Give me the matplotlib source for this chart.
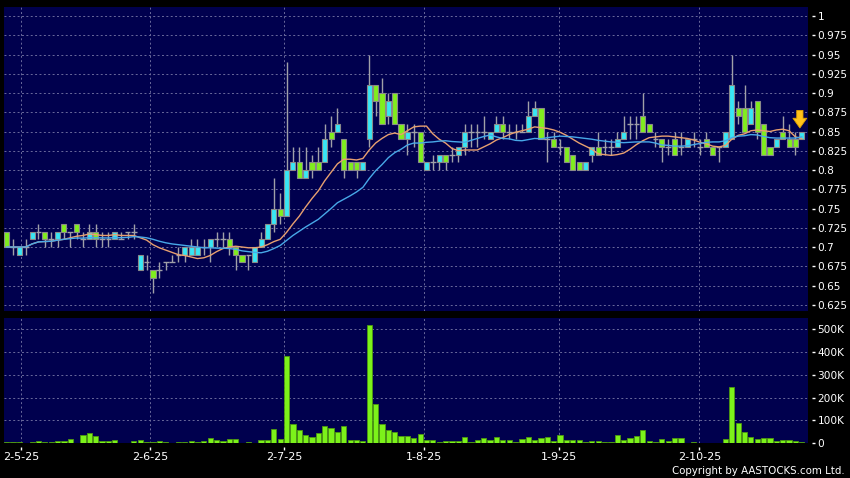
import numpy as np
import pandas as pd
import matplotlib
matplotlib.use("Agg")
import matplotlib.pyplot as plt

# --- data (one candle per trading day) ---
opens = [0.72, 0.70, 0.69, 0.70, 0.71, 0.72, 0.72, 0.71, 0.71, 0.73,
         0.72, 0.73, 0.71, 0.71, 0.72, 0.71, 0.71, 0.71, 0.71, 0.72,
         0.72, 0.67, 0.68, 0.67, 0.67, 0.68, 0.68, 0.69, 0.69, 0.69,
         0.69, 0.70, 0.70, 0.71, 0.71, 0.71, 0.70, 0.69, 0.69, 0.68,
         0.70, 0.71, 0.73, 0.75, 0.74, 0.80, 0.81, 0.79, 0.81, 0.81,
         0.81, 0.85, 0.85, 0.84, 0.81, 0.81, 0.80, 0.84, 0.91, 0.90,
         0.87, 0.90, 0.86, 0.84, 0.85, 0.85, 0.80, 0.81, 0.81, 0.82,
         0.82, 0.82, 0.83, 0.85, 0.85, 0.85, 0.84, 0.85, 0.86, 0.85,
         0.85, 0.85, 0.85, 0.87, 0.88, 0.84, 0.84, 0.83, 0.83, 0.82,
         0.81, 0.80, 0.82, 0.83, 0.83, 0.83, 0.83, 0.84, 0.86, 0.86,
         0.87, 0.86, 0.84, 0.84, 0.83, 0.84, 0.83, 0.83, 0.84, 0.83,
         0.84, 0.83, 0.83, 0.83, 0.84, 0.88, 0.88, 0.86, 0.89, 0.86,
         0.83, 0.83, 0.85, 0.84, 0.84, 0.84]
highs = [0.72, 0.71, 0.70, 0.71, 0.72, 0.73, 0.72, 0.72, 0.72, 0.73,
         0.72, 0.73, 0.72, 0.73, 0.73, 0.72, 0.72, 0.72, 0.72, 0.72,
         0.73, 0.69, 0.69, 0.67, 0.68, 0.68, 0.69, 0.70, 0.70, 0.71,
         0.71, 0.71, 0.71, 0.72, 0.72, 0.72, 0.70, 0.69, 0.69, 0.70,
         0.72, 0.73, 0.79, 0.77, 0.94, 0.83, 0.83, 0.83, 0.82, 0.83,
         0.86, 0.87, 0.88, 0.84, 0.81, 0.81, 0.81, 0.95, 0.91, 0.92,
         0.90, 0.90, 0.86, 0.86, 0.86, 0.85, 0.81, 0.82, 0.82, 0.82,
         0.83, 0.83, 0.86, 0.86, 0.86, 0.87, 0.85, 0.87, 0.87, 0.86,
         0.86, 0.86, 0.89, 0.89, 0.88, 0.85, 0.85, 0.84, 0.83, 0.82,
         0.81, 0.81, 0.83, 0.85, 0.84, 0.84, 0.85, 0.87, 0.87, 0.87,
         0.90, 0.86, 0.85, 0.84, 0.84, 0.85, 0.85, 0.84, 0.85, 0.84,
         0.85, 0.83, 0.83, 0.85, 0.95, 0.89, 0.91, 0.89, 0.89, 0.86,
         0.83, 0.84, 0.87, 0.86, 0.85, 0.85]
lows = [0.70, 0.69, 0.69, 0.69, 0.71, 0.71, 0.70, 0.70, 0.70, 0.71,
        0.70, 0.71, 0.70, 0.71, 0.70, 0.70, 0.70, 0.71, 0.71, 0.71,
        0.71, 0.67, 0.67, 0.64, 0.66, 0.67, 0.68, 0.68, 0.68, 0.69,
        0.69, 0.69, 0.68, 0.70, 0.70, 0.69, 0.67, 0.68, 0.67, 0.68,
        0.70, 0.71, 0.72, 0.73, 0.74, 0.80, 0.79, 0.79, 0.79, 0.80,
        0.81, 0.83, 0.85, 0.79, 0.80, 0.79, 0.80, 0.83, 0.87, 0.86,
        0.86, 0.86, 0.84, 0.82, 0.83, 0.81, 0.80, 0.80, 0.80, 0.80,
        0.81, 0.81, 0.82, 0.83, 0.83, 0.84, 0.84, 0.85, 0.84, 0.84,
        0.84, 0.85, 0.85, 0.87, 0.84, 0.81, 0.83, 0.82, 0.81, 0.80,
        0.80, 0.80, 0.81, 0.82, 0.82, 0.82, 0.83, 0.84, 0.84, 0.84,
        0.85, 0.85, 0.83, 0.81, 0.82, 0.82, 0.82, 0.83, 0.83, 0.82,
        0.83, 0.82, 0.81, 0.83, 0.84, 0.86, 0.85, 0.86, 0.84, 0.82,
        0.82, 0.83, 0.84, 0.83, 0.82, 0.84]
closes = [0.70, 0.70, 0.70, 0.70, 0.72, 0.72, 0.71, 0.71, 0.72, 0.72,
          0.72, 0.72, 0.71, 0.72, 0.71, 0.71, 0.71, 0.72, 0.71, 0.72,
          0.72, 0.69, 0.68, 0.66, 0.67, 0.68, 0.68, 0.69, 0.70, 0.70,
          0.70, 0.70, 0.71, 0.71, 0.71, 0.70, 0.69, 0.68, 0.69, 0.70,
          0.71, 0.73, 0.75, 0.74, 0.80, 0.81, 0.79, 0.80, 0.80, 0.80,
          0.84, 0.84, 0.86, 0.80, 0.80, 0.80, 0.81, 0.91, 0.89, 0.86,
          0.89, 0.86, 0.84, 0.85, 0.85, 0.81, 0.81, 0.81, 0.82, 0.81,
          0.82, 0.83, 0.85, 0.85, 0.85, 0.85, 0.85, 0.86, 0.85, 0.85,
          0.85, 0.85, 0.87, 0.88, 0.84, 0.84, 0.83, 0.83, 0.81, 0.80,
          0.80, 0.81, 0.83, 0.82, 0.83, 0.83, 0.84, 0.85, 0.86, 0.86,
          0.85, 0.85, 0.84, 0.83, 0.83, 0.82, 0.83, 0.84, 0.84, 0.83,
          0.83, 0.82, 0.83, 0.85, 0.91, 0.87, 0.85, 0.88, 0.85, 0.82,
          0.82, 0.84, 0.84, 0.83, 0.83, 0.85]
# volume in thousands of shares
volumes = [4, 4, 4, 1, 4, 10, 6, 6, 9, 12,
           17, 2, 36, 45, 34, 10, 10, 13, 1, 3,
           12, 16, 4, 4, 10, 4, 1, 6, 6, 9,
           6, 9, 22, 13, 12, 17, 17, 1, 7, 1,
           16, 13, 61, 17, 380, 85, 57, 36, 28, 45,
           74, 67, 50, 74, 15, 16, 9, 516, 172, 83,
           58, 48, 32, 32, 23, 39, 13, 13, 7, 12,
           12, 10, 28, 4, 16, 22, 15, 28, 13, 16,
           6, 17, 28, 15, 22, 26, 10, 35, 13, 13,
           13, 7, 12, 10, 6, 6, 35, 13, 22, 32,
           58, 10, 7, 17, 10, 22, 23, 3, 4, 1,
           2, 2, 2, 17, 246, 89, 50, 29, 17, 23,
           23, 10, 15, 15, 10, 6]
date_labels = ["2-5-25", "2-6-25", "2-7-25", "1-8-25", "1-9-25", "2-10-25"]
date_pos = [2.3, 22.5, 43.6, 65.6, 86.8, 108.9]

o = np.array(opens)
h = np.array(highs)
l = np.array(lows)
c = np.array(closes)
v = np.array(volumes) * 1000
x = np.arange(len(c))

ma10 = pd.Series(c).rolling(10, min_periods=1).mean()
ma20 = pd.Series(c).rolling(20, min_periods=1).mean()

BG = "#00004e"
GRID = "#6a6a9c"
UP = "#38e6f4"
DOWN = "#80ee1e"
WICK = "#a0a0a8"

fig = plt.figure(figsize=(8.5, 4.78), dpi=100, facecolor="black")
W, H = 850, 478
ax = fig.add_axes([4 / W, 1 - 311 / H, 803.5 / W, 304 / H], facecolor=BG)
axv = fig.add_axes([4 / W, 1 - 443.3 / H, 803.5 / W, 125.3 / H], facecolor=BG)

# --- price panel ---
ax.vlines(x, l, h, color=WICK, lw=1, zorder=2)
up = c > o
dn = c < o
dj = c == o
ax.bar(x[up], (c - o)[up], bottom=o[up], width=0.8, color=UP,
       edgecolor="#8a8a8a", lw=0.8, zorder=3)
ax.bar(x[dn], (o - c)[dn], bottom=c[dn], width=0.8, color=DOWN,
       edgecolor="#8a8a8a", lw=0.8, zorder=3)
ax.hlines(c[dj], x[dj] - 0.45, x[dj] + 0.45, color=WICK, lw=1, zorder=3)
ax.plot(x, ma10, color="#e8a070", lw=1, zorder=4)
ax.plot(x, ma20, color="#48a8e8", lw=1, zorder=4)

ax.annotate("", xy=(124.7, 0.851), xytext=(124.7, 0.881),
            arrowprops=dict(arrowstyle="simple,head_width=1.0,head_length=0.7,tail_width=0.45",
                            fc="#ffc21a", ec="#e0a000", lw=0.6, mutation_scale=10),
            zorder=5)

ax.set_ylim(0.6169, 1.0117)
yt = np.arange(0.625, 1.001, 0.025)
ax.set_yticks(yt)
ax.set_yticklabels([f"{t:g}" for t in np.round(yt, 3)])

# --- volume panel ---
axv.bar(x, v, width=0.82, color="#7cf21a", edgecolor="#4e9a10", lw=0.6, zorder=3)
axv.set_ylim(0, 548000)
vt = np.arange(0, 500001, 100000)
axv.set_yticks(vt)
axv.set_yticklabels(["0"] + [f"{int(t / 1000)}K" for t in vt[1:]])

for a in (ax, axv):
    a.set_xlim(-0.42, 125.9)
    for s in a.spines.values():
        s.set_visible(False)
    a.yaxis.tick_right()
    a.spines["right"].set_position(("outward", 3))
    a.tick_params(axis="y", colors="white", labelcolor="white", length=2.5,
                  width=1, pad=1.8, labelsize=7.6)
    a.grid(axis="y", color=GRID, ls=(0, (2, 2.5)), lw=0.7, zorder=0)
    for p in date_pos:
        a.axvline(p, color=GRID, ls=(0, (2, 2.5)), lw=0.7, zorder=0)
    a.set_axisbelow(True)

ax.set_xticks([])
axv.set_xticks(date_pos)
axv.set_xticklabels(date_labels)
axv.spines["bottom"].set_position(("outward", 2.5))
axv.tick_params(axis="x", colors="white", labelcolor="white", length=2.5,
                width=1, pad=1.5, labelsize=8)

fig.text(845 / W, 1 - 471.5 / H, "Copyright by AASTOCKS.com Ltd.", color="white",
         fontsize=7.4, ha="right", va="center")

fig.savefig("out.png", dpi=100, facecolor="black")
